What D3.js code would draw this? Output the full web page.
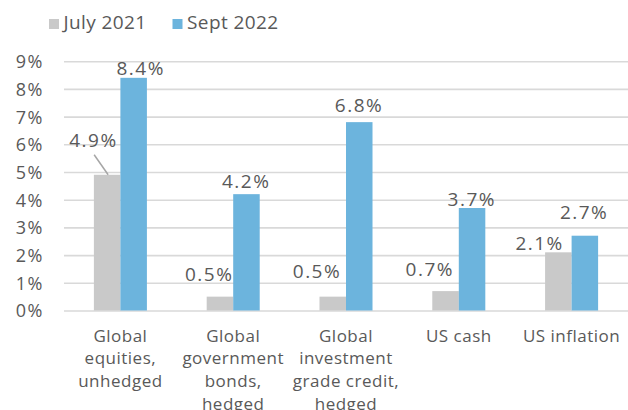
<!DOCTYPE html>
<html>
<head>
<meta charset="utf-8">
<script src="https://cdn.jsdelivr.net/npm/d3@7/dist/d3.min.js"></script>
<style>
  body { margin: 0; background: #fff; }
  text { font-family: "Open Sans", sans-serif; fill: #595959; }
</style>
</head>
<body>
<svg id="chart" width="628" height="410"></svg>
<script>
// data
let categories = [
  ['Global', 'equities,', 'unhedged'],
  ['Global', 'government', 'bonds,', 'hedged'],
  ['Global', 'investment', 'grade credit,', 'hedged'],
  ['US cash'],
  ['US inflation']
];
let seriesNames = ['July 2021', 'Sept 2022'];
let july2021 = [4.9, 0.5, 0.5, 0.7, 2.1];
let sept2022 = [8.4, 4.2, 6.8, 3.7, 2.7];
let yTicks = [0, 1, 2, 3, 4, 5, 6, 7, 8, 9];

// manual nudges of the data labels (dx from bar centre, dy from bar top)
let julyNudge = [[-14.5, -27.5], [-11.5, -15.7], [-16.5, -19], [-16.5, -15], [-19.5, -2.3]];
let septNudge = [[6.3, -2.8], [-1, -6.5], [-1, -9.8], [-1, -2], [-1.5, -16.4]];

let colors = ['#c9c9c9', '#6cb4dd'];

let svg = d3.select('#chart');

let xScale = d3.scaleBand()
  .domain(d3.range(categories.length))
  .range([64, 628])
  .paddingInner(0.53)
  .paddingOuter(0.265);

let yScale = d3.scaleLinear().domain([0, 9]).range([310.5, 61.2]);

// gridlines
let yAxis = d3.axisLeft(yScale)
  .tickValues(yTicks)
  .tickSize(-564)
  .tickFormat(d => d + '%');

let gAxis = svg.append('g')
  .attr('transform', 'translate(64,0)')
  .call(yAxis);
gAxis.select('.domain').remove();
gAxis.selectAll('.tick line')
  .attr('stroke', '#d9d9d9')
  .attr('stroke-width', 1.6);
gAxis.selectAll('.tick text')
  .attr('x', -20)
  .attr('dy', '0.36em')
  .style('font-size', '18px')
  .style('letter-spacing', '1.5px')
  .style('fill', '#595959');

let bw = xScale.bandwidth() / 2;

let series = [july2021, sept2022];
let nudges = [julyNudge, septNudge];

series.forEach((vals, s) => {
  svg.selectAll('rect.s' + s)
    .data(vals)
    .enter()
    .append('rect')
    .attr('class', 's' + s)
    .attr('x', (d, i) => xScale(i) + s * bw)
    .attr('y', d => yScale(d))
    .attr('width', bw)
    .attr('height', d => yScale(0) - yScale(d))
    .style('fill', colors[s]);
});

// leader line for the first label
svg.append('line')
  .attr('x1', xScale(0) + bw / 2 - 13)
  .attr('y1', yScale(july2021[0]) - 20)
  .attr('x2', xScale(0) + bw / 2 + 1)
  .attr('y2', yScale(july2021[0]))
  .attr('stroke', '#a6a6a6')
  .attr('stroke-width', 1.5);

series.forEach((vals, s) => {
  svg.selectAll('text.lab' + s)
    .data(vals)
    .enter()
    .append('text')
    .attr('class', 'lab' + s)
    .attr('x', (d, i) => xScale(i) + s * bw + bw / 2 + nudges[s][i][0] + 0.75)
    .attr('y', (d, i) => yScale(d) + nudges[s][i][1])
    .attr('text-anchor', 'middle')
    .style('font-size', '19px')
    .style('letter-spacing', '1.5px')
    .text(d => d.toFixed(1) + '%');
});

// category labels
let cat = svg.selectAll('text.cat')
  .data(categories)
  .enter()
  .append('text')
  .attr('class', 'cat')
  .attr('text-anchor', 'middle')
  .style('font-size', '17px')
  .style('letter-spacing', '0.5px');

cat.selectAll('tspan')
  .data((d, i) => d.map(line => ({ line, i })))
  .enter()
  .append('tspan')
  .attr('x', d => xScale(d.i) + xScale.bandwidth() / 2)
  .attr('y', (d, j) => 341.7 + j * 22.7)
  .text(d => d.line);

// legend
let legend = svg.selectAll('g.legend')
  .data(seriesNames)
  .enter()
  .append('g')
  .attr('class', 'legend')
  .attr('transform', (d, i) => `translate(${49 + i * 123.5}, 0)`);

legend.append('rect')
  .attr('y', 19)
  .attr('width', 10)
  .attr('height', 10)
  .style('fill', (d, i) => colors[i]);

legend.append('text')
  .attr('x', 14.5)
  .attr('y', 29.3)
  .style('font-size', '19px')
  .style('letter-spacing', '0.4px')
  .text(d => d);
</script>
</body>
</html>
